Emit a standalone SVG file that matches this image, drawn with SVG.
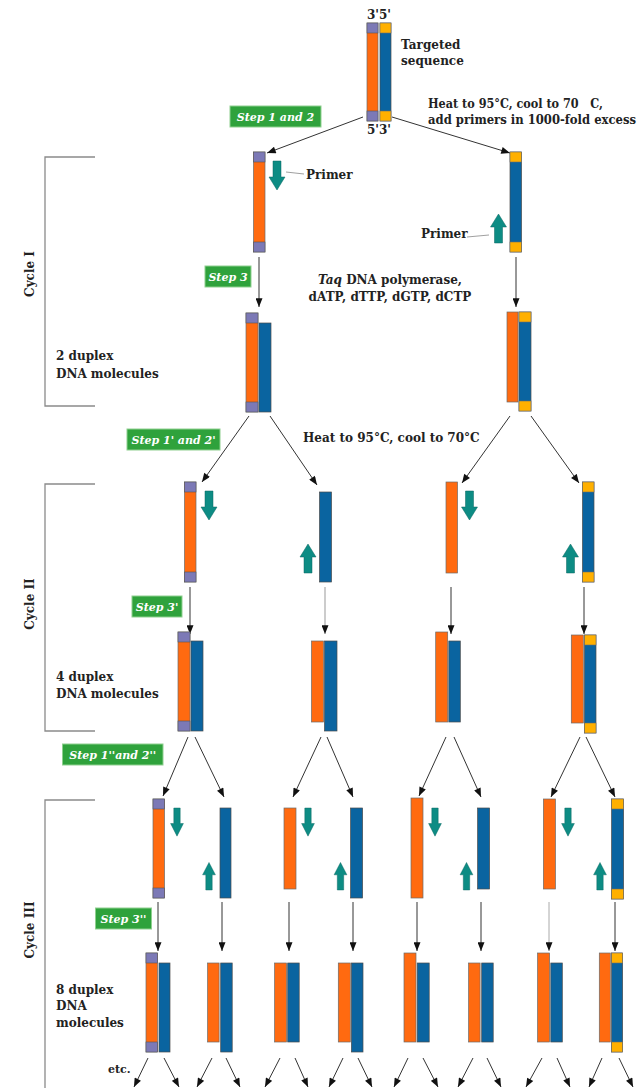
<svg xmlns="http://www.w3.org/2000/svg" width="644" height="1088" viewBox="0 0 644 1088">
<style>
.o{fill:#ff6a10;stroke:#6b6b6b;stroke-width:0.7}
.b{fill:#0a64a0;stroke:#4a4a4a;stroke-width:0.7}
.p{fill:#7c79b6;stroke:#555;stroke-width:0.6}
.y{fill:#ffb000;stroke:#6b6b6b;stroke-width:0.6}
.pr{fill:#0d8c84;stroke:#0a6660;stroke-width:0.5}
.t{font-family:"DejaVu Serif","Liberation Serif",serif;font-weight:bold;font-size:12px;fill:#222}
.st{fill:#2fa23c;stroke:#8fd08f;stroke-width:1}
.stt{font-family:"DejaVu Serif","Liberation Serif",serif;font-weight:bold;font-style:italic;font-size:11px;fill:#fff;text-anchor:middle}
.c{stroke:#333;stroke-width:1;fill:none;marker-end:url(#ah)}
.br{stroke:#8a8a8a;stroke-width:1.3;fill:none}
.ld{stroke:#888;stroke-width:0.8;fill:none}
</style>
<defs>
<marker id="ah" viewBox="0 0 10 8" refX="10" refY="4" markerWidth="10" markerHeight="7" markerUnits="userSpaceOnUse" orient="auto"><path d="M0,0 L10,4 L0,8 z" fill="#111"/></marker>
<path id="pdn" d="M-4,0 H4 V16 H8 L0,29 L-8,16 H-4 Z"/>
<path id="pup" d="M-4,0 H4 V-16 H8 L0,-29 L-8,-16 H-4 Z"/>
</defs>
<rect width="644" height="1088" fill="#fff"/>

<!-- brackets -->
<g id="brackets">
<path class="br" d="M95,157 H45 V406 H95"/>
<path class="br" d="M95,484 H45 V731 H95"/>
<path class="br" d="M95,800 H45 V1088"/>
<text class="t" transform="translate(34,274) rotate(-90)" text-anchor="middle">Cycle I</text>
<text class="t" transform="translate(34,604) rotate(-90)" text-anchor="middle">Cycle II</text>
<text class="t" transform="translate(34,930) rotate(-90)" text-anchor="middle">Cycle III</text>
</g>

<!-- connectors -->
<g id="connectors">
<line class="c" x1="363" y1="117" x2="267" y2="153"/>
<line class="c" x1="392" y1="117" x2="510" y2="153"/>
<line class="c" x1="259" y1="257" x2="259" y2="307"/>
<line class="c" x1="516" y1="257" x2="516" y2="307"/>
<line class="c" x1="249" y1="416" x2="202" y2="482"/>
<line class="c" x1="270" y1="416" x2="317" y2="485"/>
<line class="c" x1="510" y1="416" x2="462" y2="483"/>
<line class="c" x1="531" y1="416" x2="579" y2="483"/>
<line class="c" x1="190" y1="587" x2="190" y2="634"/>
<line class="c" x1="325" y1="587" x2="325" y2="634" style="stroke:#999"/>
<line class="c" x1="451" y1="587" x2="451" y2="634"/>
<line class="c" x1="584" y1="587" x2="584" y2="634"/>
<line class="c" x1="188" y1="737" x2="163" y2="796"/>
<line class="c" x1="195" y1="737" x2="224" y2="797"/>
<line class="c" x1="321" y1="737" x2="293" y2="797"/>
<line class="c" x1="327" y1="737" x2="353" y2="797"/>
<line class="c" x1="446" y1="737" x2="419" y2="796"/>
<line class="c" x1="454" y1="737" x2="481" y2="797"/>
<line class="c" x1="580" y1="737" x2="551" y2="797"/>
<line class="c" x1="586" y1="737" x2="615" y2="797"/>
<line class="c" x1="158" y1="902" x2="158" y2="951"/>
<line class="c" x1="222" y1="902" x2="222" y2="951"/>
<line class="c" x1="289" y1="902" x2="289" y2="951"/>
<line class="c" x1="353" y1="902" x2="353" y2="951"/>
<line class="c" x1="417" y1="902" x2="417" y2="951"/>
<line class="c" x1="481" y1="902" x2="481" y2="951"/>
<line class="c" x1="549" y1="902" x2="549" y2="951" style="stroke:#aaa"/>
<line class="c" x1="615" y1="902" x2="615" y2="951"/>
<line class="c" x1="148" y1="1058" x2="134" y2="1087"/>
<line class="c" x1="164" y1="1058" x2="179" y2="1087"/>
<line class="c" x1="212" y1="1058" x2="197" y2="1087"/>
<line class="c" x1="226" y1="1058" x2="240" y2="1087"/>
<line class="c" x1="280" y1="1058" x2="265" y2="1087"/>
<line class="c" x1="295" y1="1058" x2="308" y2="1087"/>
<line class="c" x1="343" y1="1058" x2="329" y2="1087"/>
<line class="c" x1="358" y1="1058" x2="372" y2="1087"/>
<line class="c" x1="408" y1="1058" x2="394" y2="1087"/>
<line class="c" x1="423" y1="1058" x2="438" y2="1087"/>
<line class="c" x1="473" y1="1058" x2="458" y2="1087"/>
<line class="c" x1="487" y1="1058" x2="501" y2="1087"/>
<line class="c" x1="542" y1="1058" x2="526" y2="1087"/>
<line class="c" x1="557" y1="1058" x2="570" y2="1087"/>
<line class="c" x1="602" y1="1058" x2="589" y2="1087"/>
<line class="c" x1="619" y1="1058" x2="633" y2="1087"/>
<path class="ld" d="M286,172 L304,174"/>
<path class="ld" d="M467,237 L489,235"/>
</g>

<!-- top duplex -->
<g id="n-target">
<rect class="o" x="367" y="23" width="11" height="98"/>
<rect class="p" x="367" y="23" width="11" height="10"/>
<rect class="p" x="367" y="111" width="11" height="10"/>
<rect class="b" x="380" y="23" width="11" height="98"/>
<rect class="y" x="380" y="23" width="11" height="10"/>
<rect class="y" x="380" y="111" width="11" height="10"/>
<text class="t" x="367" y="18.5">3'5'</text>
<text class="t" x="367" y="133.5">5'3'</text>
<text class="t" x="401" y="48.5">Targeted</text>
<text class="t" x="401" y="65">sequence</text>
</g>
<g id="label-heat1">
<text class="t" x="428" y="108" textLength="175" lengthAdjust="spacingAndGlyphs">Heat to 95°C, cool to 70&#160;&#160;&#160;C,</text>
<text class="t" x="428" y="124" textLength="208" lengthAdjust="spacingAndGlyphs">add primers in 1000-fold excess</text>
</g>
<g id="step12"><rect class="st" x="230" y="106" width="91" height="21"/><text class="stt" x="275.5" y="120.5">Step 1 and 2</text></g>

<!-- cycle I -->
<g id="c1-s1">
<rect class="o" x="253.5" y="152" width="11.5" height="100"/>
<rect class="p" x="253.5" y="152" width="11.5" height="10"/>
<rect class="p" x="253.5" y="242" width="11.5" height="10"/>
<use href="#pdn" class="pr" transform="translate(277,161)"/>
<text class="t" x="306" y="179">Primer</text>
</g>
<g id="c1-s2">
<rect class="b" x="510" y="152" width="11.5" height="100"/>
<rect class="y" x="510" y="152" width="11.5" height="10"/>
<rect class="y" x="510" y="242" width="11.5" height="10"/>
<use href="#pup" class="pr" transform="translate(498.5,243)"/>
<text class="t" x="421" y="238">Primer</text>
</g>
<g id="step3"><rect class="st" x="205" y="266" width="46" height="21"/><text class="stt" x="228" y="280.5">Step 3</text></g>
<g id="label-taq">
<text class="t" x="390" y="284" text-anchor="middle"><tspan font-style="italic">Taq</tspan> DNA polymerase,</text>
<text class="t" x="390" y="301" text-anchor="middle">dATP, dTTP, dGTP, dCTP</text>
</g>
<g id="c1-d1">
<rect class="o" x="246" y="313" width="12" height="99"/>
<rect class="p" x="246" y="313" width="12" height="10"/>
<rect class="p" x="246" y="402" width="12" height="10"/>
<rect class="b" x="259" y="323" width="12" height="89"/>
</g>
<g id="c1-d2">
<rect class="o" x="507" y="312" width="11" height="90"/>
<rect class="b" x="519" y="312" width="12" height="99"/>
<rect class="y" x="519" y="312" width="12" height="10"/>
<rect class="y" x="519" y="401" width="12" height="10"/>
</g>
<g id="label-2dup"><text class="t" x="56" y="360">2 duplex</text><text class="t" x="56" y="378">DNA molecules</text></g>

<!-- cycle II -->
<g id="step12p"><rect class="st" x="127" y="429" width="93" height="21"/><text class="stt" x="173.5" y="443.5">Step 1' and 2'</text></g>
<text class="t" x="303" y="442">Heat to 95°C, cool to 70°C</text>
<g id="c2-s1">
<rect class="o" x="184.5" y="482" width="11.5" height="100"/>
<rect class="p" x="184.5" y="482" width="11.5" height="10"/>
<rect class="p" x="184.5" y="572" width="11.5" height="10"/>
<use href="#pdn" class="pr" transform="translate(209,491)"/>
</g>
<g id="c2-s2">
<rect class="b" x="319.5" y="492" width="12" height="90"/>
<use href="#pup" class="pr" transform="translate(308,573)"/>
</g>
<g id="c2-s3">
<rect class="o" x="446" y="482" width="11.5" height="91"/>
<use href="#pdn" class="pr" transform="translate(469.5,491)"/>
</g>
<g id="c2-s4">
<rect class="b" x="582.5" y="482" width="11.5" height="100"/>
<rect class="y" x="582.5" y="482" width="11.5" height="10"/>
<rect class="y" x="582.5" y="572" width="11.5" height="10"/>
<use href="#pup" class="pr" transform="translate(570.5,573)"/>
</g>
<g id="step3p"><rect class="st" x="132" y="596" width="50" height="21"/><text class="stt" x="157" y="610.5">Step 3'</text></g>
<g id="c2-d1">
<rect class="o" x="178" y="632" width="12" height="99"/>
<rect class="p" x="178" y="632" width="12" height="10"/>
<rect class="p" x="178" y="721" width="12" height="10"/>
<rect class="b" x="191" y="641" width="12" height="90"/>
</g>
<g id="c2-d2">
<rect class="o" x="311.5" y="641" width="12" height="81"/>
<rect class="b" x="324.5" y="641" width="12.5" height="90"/>
</g>
<g id="c2-d3">
<rect class="o" x="435.7" y="632" width="12" height="90"/>
<rect class="b" x="448.8" y="641" width="11.5" height="81"/>
</g>
<g id="c2-d4">
<rect class="o" x="571.3" y="635" width="12" height="88"/>
<rect class="b" x="584.5" y="635" width="11.5" height="98"/>
<rect class="y" x="584.5" y="635" width="11.5" height="10"/>
<rect class="y" x="584.5" y="723" width="11.5" height="10"/>
</g>
<g id="label-4dup"><text class="t" x="56" y="681">4 duplex</text><text class="t" x="56" y="698">DNA molecules</text></g>

<!-- cycle III -->
<g id="step12pp"><rect class="st" x="62.5" y="744" width="100.5" height="21"/><text class="stt" x="112.7" y="758.5">Step 1''and 2''</text></g>
<g id="c3-s1">
<rect class="o" x="153" y="799" width="11.5" height="99"/>
<rect class="p" x="153" y="799" width="11.5" height="10"/>
<rect class="p" x="153" y="888" width="11.5" height="10"/>
<use href="#pdn" class="pr" transform="translate(177,808) scale(0.8,0.97)"/>
</g>
<g id="c3-s2"><rect class="b" x="220" y="808" width="11" height="90"/><use href="#pup" class="pr" transform="translate(209,890) scale(0.8,0.95)"/></g>
<g id="c3-s3"><rect class="o" x="284" y="808" width="12" height="81"/><use href="#pdn" class="pr" transform="translate(308,808) scale(0.8,0.97)"/></g>
<g id="c3-s4"><rect class="b" x="350.6" y="808" width="12" height="90"/><use href="#pup" class="pr" transform="translate(340.5,890) scale(0.8,0.95)"/></g>
<g id="c3-s5"><rect class="o" x="411" y="798" width="12" height="100"/><use href="#pdn" class="pr" transform="translate(435,808) scale(0.8,0.97)"/></g>
<g id="c3-s6"><rect class="b" x="477.6" y="808" width="12" height="81"/><use href="#pup" class="pr" transform="translate(466.5,890) scale(0.8,0.95)"/></g>
<g id="c3-s7"><rect class="o" x="543.4" y="799" width="12" height="90"/><use href="#pdn" class="pr" transform="translate(568,808) scale(0.8,0.97)"/></g>
<g id="c3-s8">
<rect class="b" x="611.6" y="799" width="12" height="100"/>
<rect class="y" x="611.6" y="799" width="12" height="10"/>
<rect class="y" x="611.6" y="889" width="12" height="10"/>
<use href="#pup" class="pr" transform="translate(600,890) scale(0.8,0.95)"/>
</g>
<g id="step3pp"><rect class="st" x="95.5" y="908" width="56" height="21"/><text class="stt" x="123.5" y="922.5">Step 3''</text></g>
<g id="c3-d1">
<rect class="o" x="146" y="953" width="11.5" height="99"/>
<rect class="p" x="146" y="953" width="11.5" height="10"/>
<rect class="p" x="146" y="1042" width="11.5" height="10"/>
<rect class="b" x="159" y="963" width="11" height="89"/>
</g>
<g id="c3-d2"><rect class="o" x="207.6" y="963" width="11.5" height="79"/><rect class="b" x="220.7" y="963" width="11.5" height="89"/></g>
<g id="c3-d3"><rect class="o" x="274.6" y="963" width="12" height="79"/><rect class="b" x="287.7" y="963" width="11.5" height="79"/></g>
<g id="c3-d4"><rect class="o" x="338.3" y="963" width="12" height="79"/><rect class="b" x="351.4" y="963" width="11.6" height="89"/></g>
<g id="c3-d5"><rect class="o" x="404" y="953" width="12" height="89"/><rect class="b" x="417.2" y="963" width="12" height="79"/></g>
<g id="c3-d6"><rect class="o" x="468.6" y="963" width="11.5" height="79"/><rect class="b" x="481.7" y="963" width="11.5" height="79"/></g>
<g id="c3-d7"><rect class="o" x="537.6" y="953" width="12" height="89"/><rect class="b" x="550.8" y="963" width="11.5" height="79"/></g>
<g id="c3-d8">
<rect class="o" x="599.3" y="953" width="11" height="89"/>
<rect class="b" x="611.6" y="953" width="11" height="99"/>
<rect class="y" x="611.6" y="953" width="11" height="10"/>
<rect class="y" x="611.6" y="1042" width="11" height="10"/>
</g>
<g id="label-8dup"><text class="t" x="56" y="994">8 duplex</text><text class="t" x="56" y="1010">DNA</text><text class="t" x="56" y="1027">molecules</text></g>
<text class="t" x="108" y="1073" style="font-size:11px">etc.</text>
</svg>
